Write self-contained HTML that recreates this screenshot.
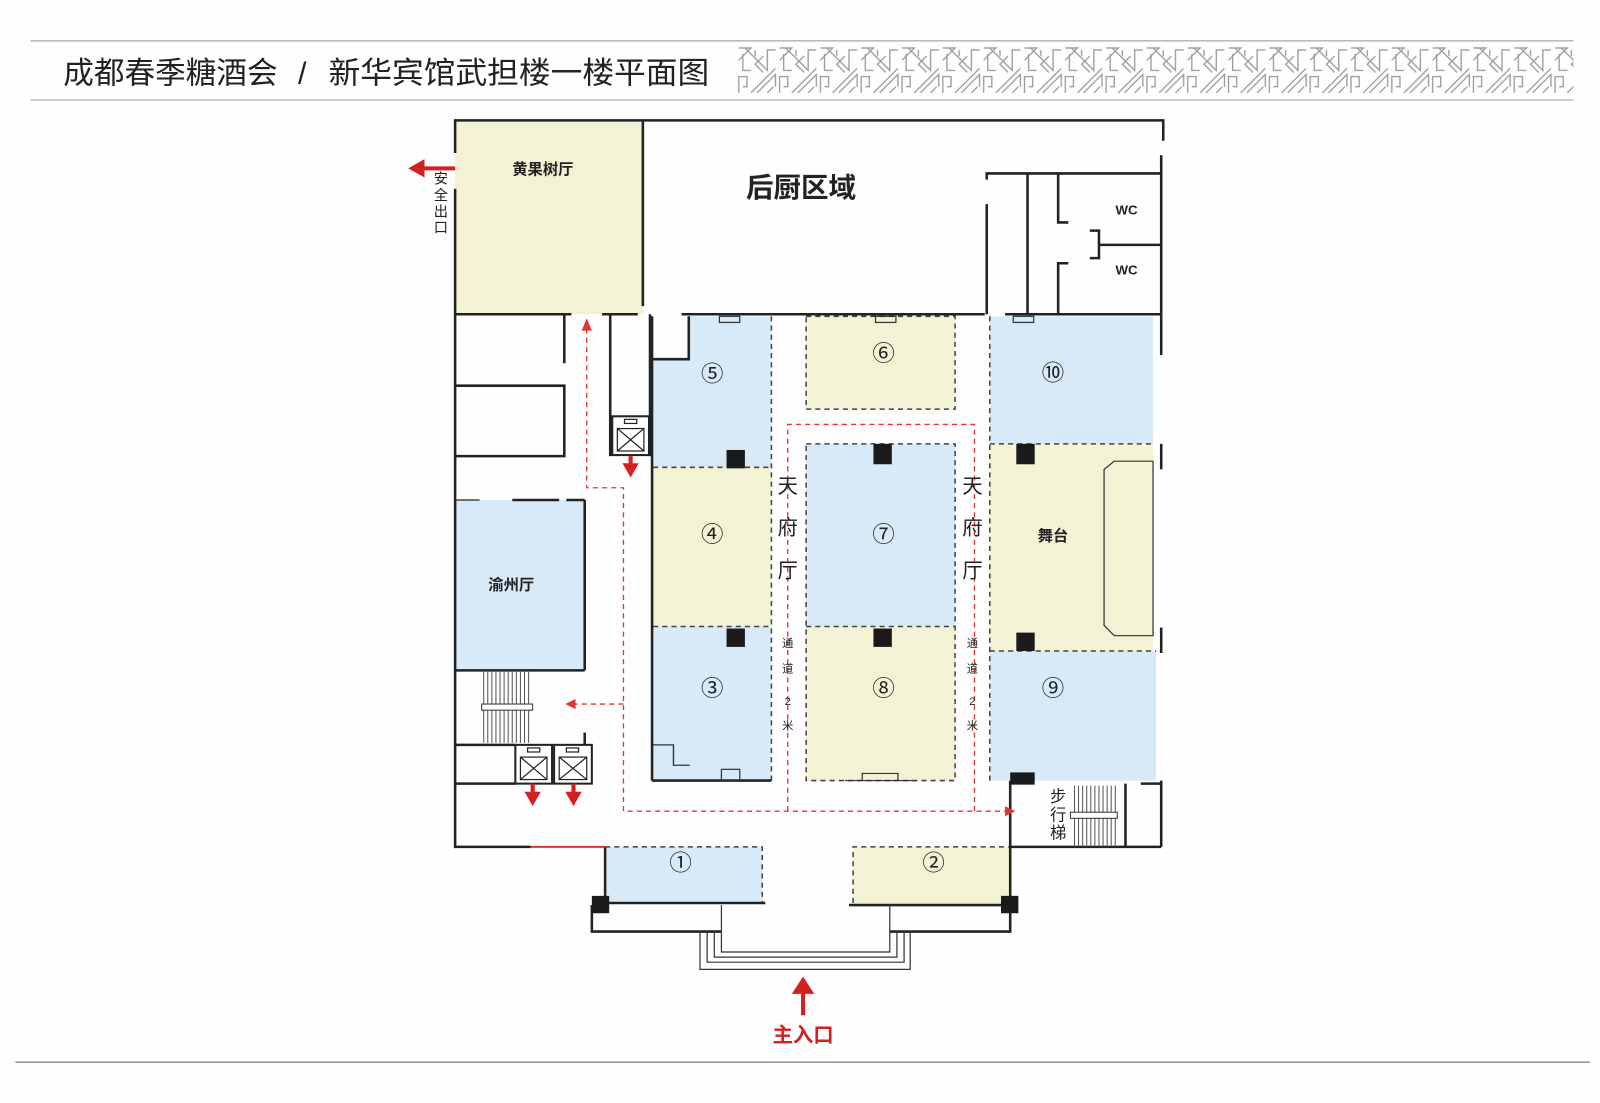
<!DOCTYPE html>
<html><head><meta charset="utf-8"><style>
html,body{margin:0;padding:0;background:#fefefe;}
svg{display:block}
text{font-family:"Liberation Sans","Noto Sans CJK SC",sans-serif;}
</style></head><body>
<svg width="1600" height="1103" viewBox="0 0 1568 1081" xmlns="http://www.w3.org/2000/svg">
<defs>
<pattern id="fret" x="722" y="45" width="40" height="48" patternUnits="userSpaceOnUse">
<g fill="none" stroke="#9a9a9a" stroke-width="1.3">
<path d="M2 46 L2 30 L10 30 L10 40 L6 40 M2 2 L14 2 L2 14 M8 2 L30 24 L30 4 L38 4 M14 46 L38 22 M20 46 L38 28 L38 40 M26 10 L18 18 L26 26 M30 46 L36 40"/>
<path d="M6 8 L6 24 L14 24 M18 4 L18 10"/>
</g></pattern>
</defs>
<rect width="1568" height="1081" fill="#fefefe"/>
<line x1="30" y1="40" x2="1542" y2="40" stroke="#bbb" stroke-width="1.5"/>
<line x1="30" y1="98" x2="1542" y2="98" stroke="#bbb" stroke-width="1.5"/>
<line x1="15" y1="1041" x2="1558" y2="1041" stroke="#999" stroke-width="1.5"/>
<text x="62" y="82" font-size="30" fill="#222">成都春季糖酒会</text>
<text x="292" y="82" font-size="30" fill="#222">/</text>
<text x="322" y="82" font-size="30" fill="#222" textLength="373" lengthAdjust="spacingAndGlyphs">新华宾馆武担楼一楼平面图</text>
<rect x="722" y="45" width="820" height="48" fill="url(#fret)"/>

<!-- fills -->
<rect x="446" y="118" width="184" height="190" fill="#f3f2d4"/>
<rect x="640" y="310" width="116" height="148" fill="#d8eaf8"/>
<rect x="640" y="310" width="35" height="42" fill="#fefefe"/>
<rect x="640" y="458" width="116" height="156" fill="#f3f2d4"/>
<rect x="640" y="614" width="116" height="151" fill="#d8eaf8"/>
<rect x="790" y="310" width="146" height="91" fill="#f3f2d4"/>
<rect x="790" y="435" width="146" height="179" fill="#d8eaf8"/>
<rect x="790" y="614" width="146" height="151" fill="#f3f2d4"/>
<rect x="970" y="310" width="160" height="125" fill="#d8eaf8"/>
<rect x="970" y="435" width="160" height="203" fill="#f3f2d4"/>
<rect x="970" y="638" width="163" height="127" fill="#d8eaf8"/>
<rect x="446" y="490" width="127" height="167" fill="#d8eaf8"/>
<rect x="593" y="830" width="154" height="55" fill="#d8eaf8"/>
<rect x="836" y="830" width="154" height="57" fill="#f3f2d4"/>

<g stroke="#444" stroke-width="1.5" stroke-dasharray="5,4" fill="none">
<rect x="790" y="310" width="146" height="91"/>
<rect x="790" y="435" width="146" height="330"/>
<line x1="790" y1="614" x2="936" y2="614"/>
<line x1="640" y1="458" x2="756" y2="458"/>
<line x1="640" y1="614" x2="756" y2="614"/>
<line x1="756" y1="310" x2="756" y2="765"/>
<line x1="970" y1="310" x2="970" y2="765"/>
<line x1="970" y1="435" x2="1130" y2="435"/>
<line x1="970" y1="638" x2="1133" y2="638"/>
<path d="M593 830 H747 V885"/>
<path d="M836 885 V830 H990"/>
<line x1="446" y1="490" x2="470" y2="490" stroke-dasharray="none"/>
</g>
<path d="M1082 460 L1092 452 H1130 V623 H1092 L1082 613 Z" fill="#f3f2d4" stroke="#333" stroke-width="1.2"/>

<!-- walls -->
<g stroke="#222" stroke-width="2.5" fill="none">
<path d="M446 150 V118 H1140 V138"/>
<path d="M446 185 V830 H520"/>
<line x1="630" y1="118" x2="630" y2="300"/>
<line x1="446" y1="308" x2="560" y2="308"/>
<line x1="590" y1="308" x2="625" y2="308"/>
<line x1="668" y1="308" x2="965" y2="308"/>
<line x1="985" y1="308" x2="1138" y2="308"/>
<line x1="1138" y1="152" x2="1138" y2="308"/>
<line x1="1138" y1="308" x2="1138" y2="348"/>
<line x1="1138" y1="435" x2="1138" y2="460"/>
<line x1="1138" y1="615" x2="1138" y2="640"/>
<line x1="1138" y1="765" x2="1138" y2="830"/>
<path d="M967 176 V170 H1138"/><line x1="967" y1="200" x2="967" y2="308"/>
<line x1="1007" y1="170" x2="1007" y2="308"/>
<path d="M1037 170 V218 H1047"/><path d="M1047 258 H1037 V308"/>
<path d="M1068 226 H1077 V253 H1068"/><line x1="1077" y1="240" x2="1138" y2="240"/>
<line x1="553" y1="308" x2="553" y2="356"/>
<path d="M446 378 H553 V447 H446"/>
<line x1="598" y1="308" x2="598" y2="447"/>
<line x1="637" y1="308" x2="637" y2="447"/>
<path d="M640 352 H675 V310"/>
<line x1="639" y1="310" x2="639" y2="765"/>
<line x1="639" y1="765" x2="756" y2="765"/>
<line x1="573" y1="490" x2="573" y2="657"/>
<line x1="446" y1="657" x2="573" y2="657"/>
<line x1="502" y1="490" x2="548" y2="490"/>
<line x1="555" y1="490" x2="573" y2="490"/>
<path d="M446 730 H505 M446 768 H505"/>
<line x1="573" y1="718" x2="573" y2="730"/>
<line x1="990" y1="765" x2="990" y2="830"/>
<line x1="990" y1="830" x2="1138" y2="830"/>
<line x1="1103" y1="768" x2="1103" y2="830"/>
<line x1="1118" y1="768" x2="1138" y2="768"/>
<line x1="593" y1="830" x2="593" y2="885"/>
<line x1="593" y1="885" x2="750" y2="885"/>
<line x1="832" y1="887" x2="990" y2="887"/>
<line x1="990" y1="830" x2="990" y2="887"/>
<path d="M580 887 V913 H707 M990 887 V913 H872"/>
</g>
<line x1="520" y1="830" x2="593" y2="830" stroke="#d33" stroke-width="2"/>
<g stroke="#333" stroke-width="1.2" fill="none">
<path d="M707 887 V933 H872 V887"/>
<path d="M700 913 V938 H879 V913"/>
<path d="M693 913 V943 H886 V913"/>
<path d="M686 913 V950 H892 V913"/>
<path d="M640 730 H660 V750 H676"/><path d="M660 750 V730"/>
<rect x="707" y="754" width="18" height="11"/>
<rect x="705" y="310" width="20" height="6"/><rect x="858" y="310" width="20" height="6"/><rect x="993" y="310" width="20" height="6"/>
<path d="M828 765 H898 M845 765 V758 H880 V765"/>
</g>
<!-- stairs -->
<g stroke="#555" stroke-width="1">
<path d="M474 657 V728 M478 657 V728 M482 657 V728 M486 657 V728 M490 657 V728 M494 657 V728 M498 657 V728 M502 657 V728 M506 657 V728 M510 657 V728 M514 657 V728 M518 657 V728"/>
<path d="M1053 770 V830 M1057 770 V830 M1061 770 V830 M1065 770 V830 M1069 770 V830 M1073 770 V830 M1077 770 V830 M1081 770 V830 M1085 770 V830 M1089 770 V830 M1093 770 V830"/>
</g>
<rect x="472" y="690" width="50" height="6" fill="#fff" stroke="#333"/>
<rect x="1049" y="796" width="46" height="6" fill="#fff" stroke="#333"/>
<!-- elevators -->
<g fill="#fff" stroke="#222" stroke-width="2">
<rect x="600" y="408" width="36" height="38"/>
<rect x="505" y="730" width="36" height="38"/>
<rect x="543" y="730" width="37" height="38"/>
</g>
<g stroke="#222" stroke-width="1.2" fill="none">
<rect x="605" y="420" width="26" height="22"/><path d="M605 420 L631 442 M631 420 L605 442"/>
<rect x="510" y="742" width="26" height="22"/><path d="M510 742 L536 764 M536 742 L510 764"/>
<rect x="548" y="742" width="27" height="22"/><path d="M548 742 L575 764 M575 742 L548 764"/>
<rect x="612" y="411" width="12" height="4"/><rect x="517" y="733" width="12" height="4"/><rect x="555" y="733" width="12" height="4"/>
</g>
<!-- columns -->
<g fill="#1a1a1a">
<rect x="712" y="441" width="18" height="18"/><rect x="712" y="616" width="18" height="18"/>
<rect x="856" y="435" width="18" height="20"/><rect x="856" y="616" width="18" height="18"/>
<rect x="996" y="435" width="18" height="20"/><rect x="996" y="620" width="18" height="18"/>
<rect x="990" y="757" width="24" height="12"/>
<rect x="580" y="878" width="17" height="17"/><rect x="981" y="878" width="17" height="17"/>
</g>
<!-- red dashed routes -->
<g stroke="#e03535" stroke-width="1.3" stroke-dasharray="5,4" fill="none">
<path d="M575 322 V478 H611 V795 H985"/>
<path d="M611 690 H562"/>
<path d="M772 795 V416 H955 V795"/>
</g>
<g fill="#e03535">
<path d="M575 312 L570 324 L580 324 Z"/>
<path d="M554 690 L564 685 L564 695 Z"/>
<path d="M995 795 L985 790 L985 800 Z"/>
</g>
<g fill="#d42020" stroke="#d42020">
<line x1="414" y1="165" x2="446" y2="165" stroke-width="4"/><path d="M400 165 L416 156 L416 174 Z" stroke="none"/>
<line x1="618" y1="447" x2="618" y2="456" stroke-width="4"/><path d="M610 454 L626 454 L618 468 Z" stroke="none"/>
<line x1="522" y1="768" x2="522" y2="778" stroke-width="4"/><path d="M514 776 L530 776 L522 790 Z" stroke="none"/>
<line x1="562" y1="768" x2="562" y2="778" stroke-width="4"/><path d="M554 776 L570 776 L562 790 Z" stroke="none"/>
<line x1="787" y1="970" x2="787" y2="995" stroke-width="4"/><path d="M776 974 L798 974 L787 957 Z" stroke="none"/>
</g>
<!-- labels -->
<g fill="#222" text-anchor="middle">
<text x="532" y="171" font-size="15" font-weight="bold">黄果树厅</text>
<text x="785" y="193" font-size="27" font-weight="bold">后厨区域</text>
<text x="1104" y="210" font-size="13" font-weight="bold">WC</text>
<text x="1104" y="269" font-size="13" font-weight="bold">WC</text>
<text x="501" y="578" font-size="15" font-weight="bold">渝州厅</text>
<text x="1032" y="530" font-size="15" font-weight="bold">舞台</text>
<g font-size="14"><text x="432" y="180">安</text><text x="432" y="196">全</text><text x="432" y="212">出</text><text x="432" y="228">口</text></g>
<g font-size="16"><text x="1037" y="786">步</text><text x="1037" y="804">行</text><text x="1037" y="822">梯</text></g>
<g font-size="20"><text x="772" y="483">天</text><text x="772" y="524">府</text><text x="772" y="566">厅</text>
<text x="953" y="483">天</text><text x="953" y="524">府</text><text x="953" y="566">厅</text></g>
<g font-size="11"><text x="772" y="634">通</text><text x="772" y="659">道</text><text x="772" y="691">2</text><text x="772" y="715">米</text>
<text x="953" y="634">通</text><text x="953" y="659">道</text><text x="953" y="691">2</text><text x="953" y="715">米</text></g>
<g font-size="22" font-family="Noto Serif CJK SC,serif"><text x="698" y="374">⑤</text><text x="866" y="354">⑥</text><text x="1032" y="373">⑩</text>
<text x="698" y="531">④</text><text x="866" y="531">⑦</text><text x="698" y="682">③</text><text x="866" y="682">⑧</text><text x="1032" y="682">⑨</text>
<text x="667" y="853">①</text><text x="915" y="853">②</text></g>
<text x="787" y="1021" font-size="20" font-weight="bold" fill="#d42020">主入口</text>
</g>
</svg>
</body></html>
